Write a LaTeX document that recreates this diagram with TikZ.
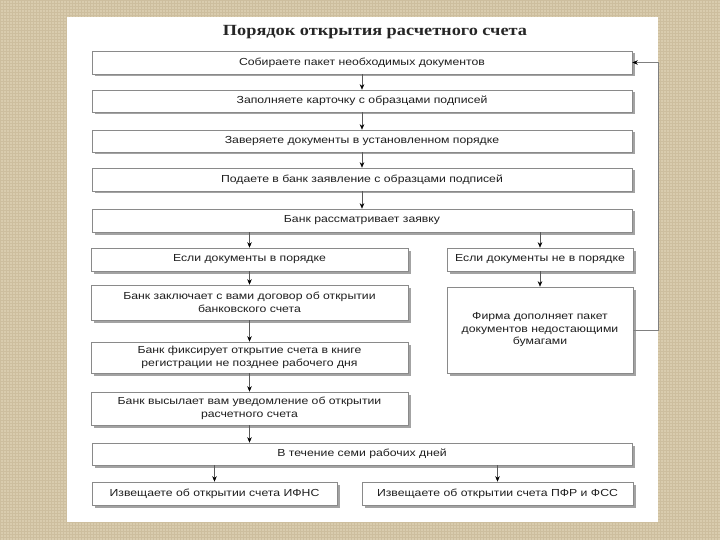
\documentclass[tikz,border=0pt]{standalone}
\usepackage{fontspec}
\setmainfont[FakeStretch=1.2]{Liberation Sans}
\newfontfamily\titlefont[FakeStretch=1.18]{Liberation Serif}
\usetikzlibrary{shadows,arrows.meta,patterns}
\definecolor{bgbeige}{HTML}{D9CCAE}
\definecolor{bgdark}{HTML}{CDBE9E}
\definecolor{txt}{HTML}{1E1E1E}
\definecolor{frame}{HTML}{8A8A8A}
\tikzset{
  stepbox/.style={draw=frame, line width=0.6pt, fill=white, align=center,
    inner sep=1pt, text=txt, font=\fontsize{10.2}{12.5}\selectfont,
    drop shadow={shadow xshift=2.5pt, shadow yshift=-2.5pt, fill=black!60, opacity=0.6}},
  flow/.style={draw=black!65, line width=0.5pt, -{Stealth[length=5.5pt,width=4.5pt,color=black]}},
  back/.style={draw=black!50, line width=0.5pt, -{Stealth[length=5.5pt,width=4.5pt,color=black]}}
}
\begin{document}
\begin{tikzpicture}[x=1pt,y=-1pt]
\useasboundingbox (0,0) rectangle (720,540);
\fill[bgbeige] (0,0) rectangle (720,540);
\fill[pattern=grid, pattern color=bgdark] (0,0) rectangle (720,540);
\fill[white] (67,17) rectangle (658,522);
\node[font=\titlefont\bfseries\fontsize{15.5}{18}\selectfont, text=black!85] (title) at (375,32) {Порядок открытия расчетного счета};

\node[stepbox, minimum width=540pt, minimum height=23pt] (b1) at (362,62.5) {Собираете пакет необходимых документов};
\node[stepbox, minimum width=540pt, minimum height=22pt] (b2) at (362,101) {Заполняете карточку с образцами подписей};
\node[stepbox, minimum width=540pt, minimum height=22pt] (b3) at (362,141) {Заверяете документы в установленном порядке};
\node[stepbox, minimum width=540pt, minimum height=23pt] (b4) at (362,179.5) {Подаете в банк заявление с образцами подписей};
\node[stepbox, minimum width=540pt, minimum height=23pt] (b5) at (362,220.5) {Банк рассматривает заявку};

\node[stepbox, minimum width=317pt, minimum height=23pt] (l1) at (249.5,259.5) {Если документы в порядке};
\node[stepbox, minimum width=317pt, minimum height=35pt] (l2) at (249.5,302.5) {Банк заключает с вами договор об открытии\\банковского счета};
\node[stepbox, minimum width=317pt, minimum height=31pt] (l3) at (249.5,357.5) {Банк фиксирует открытие счета в книге\\регистрации не позднее рабочего дня};
\node[stepbox, minimum width=317pt, minimum height=33pt] (l4) at (249.5,408.5) {Банк высылает вам уведомление об открытии\\расчетного счета};

\node[stepbox, minimum width=186pt, minimum height=23pt] (r1) at (540,259.5) {Если документы не в порядке};
\node[stepbox, minimum width=186pt, minimum height=86pt] (r2) at (540,330) {Фирма дополняет пакет\\документов недостающими\\бумагами};

\node[stepbox, minimum width=540pt, minimum height=22pt] (b6) at (362,454) {В течение семи рабочих дней};
\node[stepbox, minimum width=245pt, minimum height=23pt] (bl) at (214.5,493.5) {Извещаете об открытии счета ИФНС};
\node[stepbox, minimum width=271pt, minimum height=23pt] (br) at (497.5,493.5) {Извещаете об открытии счета ПФР и ФСС};

\draw[flow] (b1) -- (b2);
\draw[flow] (b2) -- (b3);
\draw[flow] (b3) -- (b4);
\draw[flow] (b4) -- (b5);
\draw[flow] (b5.south -| l1) -- (l1);
\draw[flow] (b5.south -| r1) -- (r1);
\draw[flow] (l1) -- (l2);
\draw[flow] (l2) -- (l3);
\draw[flow] (l3) -- (l4);
\draw[flow] (r1) -- (r2);
\draw[flow] (l4.south) -- (l4.south |- b6.north);
\draw[flow] (b6.south -| bl) -- (bl);
\draw[flow] (b6.south -| br) -- (br);

\coordinate (c1) at (658,330);
\coordinate (c2) at (658,62.5);
\draw[back] (r2.east) -- (c1) -- (c2) -- (b1.east);
\end{tikzpicture}
\end{document}
